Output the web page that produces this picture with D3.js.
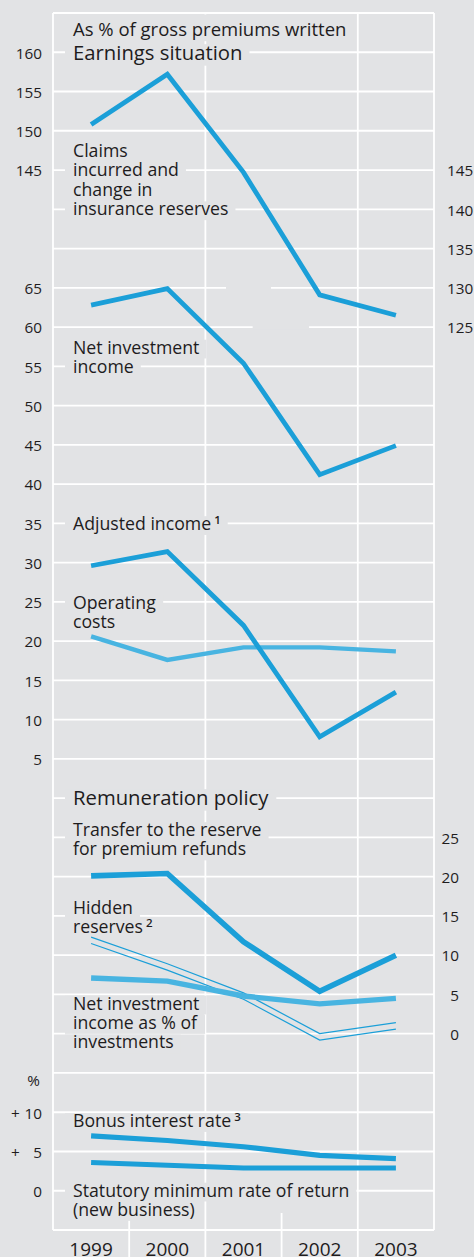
<!DOCTYPE html>
<html>
<head>
<meta charset="utf-8">
<script src="https://cdn.jsdelivr.net/npm/d3@7"></script>
<style>
  html, body { margin: 0; padding: 0; background: #e2e3e5; }
  svg { display: block; font-family: "Open Sans", sans-serif; }
</style>
</head>
<body>
<svg id="chart" width="474" height="1257"></svg>
<script>
// values
const years = ["1999", "2000", "2001", "2002", "2003"];

// earnings situation, as % of gross premiums written
const claims         = [150.8, 157.2, 144.7, 129.1, 126.5];
const netInvestment  = [62.8, 64.9, 55.4, 41.2, 44.9];
const adjustedIncome = [29.6, 31.4, 22.0, 7.8, 13.5];
const operatingCosts = [20.6, 17.6, 19.2, 19.2, 18.7];

// remuneration policy
const premiumRefunds  = [20.1, 20.4, 11.7, 5.4, 10.0];
const hiddenReserves  = [11.9, 8.5, 4.8, -0.4, 1.0];
const investmentYield = [7.1, 6.7, 4.8, 3.8, 4.5];
const bonusRate       = [7.0, 6.4, 5.6, 4.5, 4.1];
const minimumRate     = [3.6, 3.25, 2.9, 2.9, 2.9];

// tick labels
const claimsTicksLeft  = [145, 150, 155, 160];
const claimsTicksRight = [125, 130, 135, 140, 145];
const earningsTicks    = [5, 10, 15, 20, 25, 30, 35, 40, 45, 50, 55, 60, 65];
const remunTicks       = [0, 5, 10, 15, 20, 25];
const rateTicks        = [0, 5, 10];

const W = 474, H = 1257;
const L = 53, R = 434, T = 13, B = 1230;
const BG = "#e2e3e5", BLUE = "#1b9fd8", LIGHT = "#48b4e1", INK = "#1e1c1d";

const svg = d3.select("#chart");

// one gridline every 5 units, 31 rows between frame top and bottom
const gy = d3.scaleLinear().domain([0, 31]).range([T, B]);
const x = d3.scaleBand().domain(years).range([L, R]);
const cx = d => x(d) + x.bandwidth() / 2;

const yClaims = d3.scaleLinear().domain([165, 125]).range([gy(0), gy(8)]);
const yEarn   = d3.scaleLinear().domain([65, 5]).range([gy(7), gy(19)]);
const yRemun  = d3.scaleLinear().domain([25, 0]).range([gy(21), gy(26)]);
const yRate   = d3.scaleLinear().domain([10, 0]).range([gy(28), gy(30)]);

svg.append("rect").attr("width", W).attr("height", H).attr("fill", BG);

// grid
const grid = svg.append("g").attr("stroke", "#fff").attr("stroke-width", 1.8);
grid.selectAll("line.h").data(d3.range(32)).enter().append("line")
    .attr("x1", L).attr("x2", R)
    .attr("y1", d => gy(d)).attr("y2", d => gy(d));
grid.selectAll("line.f").data([L, R]).enter().append("line")
    .attr("x1", d => d).attr("x2", d => d).attr("y1", T).attr("y2", B);
years.slice(1).forEach((yr, i) => {
    const full = i % 2 === 1;
    grid.append("line")
        .attr("x1", x(yr)).attr("x2", x(yr))
        .attr("y1", full ? T : B - 17).attr("y2", H);
});

// little breaks in the 65 / 60 gridlines
const gapsG = svg.append("g").attr("fill", BG);
[[7, 1.77, 2.36], [8, 2.12, 2.86]].forEach(([row, a, b]) => {
    const px = v => L + x.bandwidth() * (v + 0.5);
    gapsG.append("rect").attr("x", px(a)).attr("width", px(b) - px(a))
        .attr("y", gy(row) - 2).attr("height", 4);
});

const knock = svg.append("g").attr("fill", BG);
const linesG = svg.append("g").attr("fill", "none").attr("stroke-linejoin", "miter");
const textG = svg.append("g").attr("fill", INK);

function series(values, scale, color, width, dy) {
    const line = d3.line().x((d, i) => cx(years[i])).y(d => scale(d));
    linesG.append("path").datum(values)
        .attr("d", line)
        .attr("transform", dy ? `translate(0,${dy})` : null)
        .attr("stroke", color).attr("stroke-width", width);
}

series(claims, yClaims, BLUE, 4.8);
series(netInvestment, yEarn, BLUE, 4.8);
series(operatingCosts, yEarn, LIGHT, 4.4);
series(adjustedIncome, yEarn, BLUE, 4.8);

series(hiddenReserves, yRemun, BLUE, 1.2, -3.2);
series(hiddenReserves, yRemun, BLUE, 1.2, 3.2);
series(investmentYield, yRemun, LIGHT, 5.4);
series(premiumRefunds, yRemun, BLUE, 5.6);

series(minimumRate, yRate, BLUE, 5);
series(bonusRate, yRate, BLUE, 5.2);

// labels inside the plot, each line knocks out the grid behind it
const notes = [
    { y: 36, size: 18.5, lines: ["As % of gross premiums written"], tall: true },
    { y: 60, size: 20.3, lines: ["Earnings situation"] },
    { y: 157, size: 17.7, lines: ["Claims", "incurred and", "change in", "insurance reserves"] },
    { y: 353.5, size: 17.7, lines: ["Net investment", "income"] },
    { y: 530, size: 17.7, lines: ["Adjusted income|1"] },
    { y: 608.5, size: 17.7, lines: ["Operating", "costs"] },
    { y: 805, size: 20.3, lines: ["Remuneration policy"] },
    { y: 836, size: 17.7, lines: ["Transfer to the reserve", "for premium refunds"] },
    { y: 913.5, size: 17.7, lines: ["Hidden", "reserves|2"] },
    { y: 1009.5, size: 17.7, lines: ["Net investment", "income as % of", "investments"] },
    { y: 1127, size: 17.7, lines: ["Bonus interest rate|3"] },
    { y: 1196.5, size: 17.7, lines: ["Statutory minimum rate of return", "(new business)"] }
];

notes.forEach(n => {
    n.lines.forEach((ln, k) => {
        const base = n.y + k * 19.4;
        const [main, sup] = ln.split("|");
        const t = textG.append("text").attr("x", 73).attr("y", base)
            .style("font-size", n.size + "px").text(main);
        if (sup) {
            t.append("tspan").attr("dx", 3).attr("dy", -6)
                .style("font-size", "11.5px").style("font-weight", 600).text(sup);
        }
        const bb = t.node().getBBox();
        const top = n.tall ? T + 1.5 : base - 0.78 * n.size;
        knock.append("rect")
            .attr("x", bb.x - 8).attr("width", bb.width + 15)
            .attr("y", top).attr("height", base + 0.28 * n.size - top);
    });
});

// axis labels
const tick = textG.append("g").style("font-size", "15.3px");
function ticks(values, scale, xPos, anchor, fmt) {
    tick.selectAll(null).data(values).enter().append("text")
        .attr("x", xPos).attr("y", d => scale(d) + 6.3)
        .attr("text-anchor", anchor)
        .text(fmt || (d => d));
}
ticks(claimsTicksLeft, yClaims, 42, "end");
ticks(claimsTicksRight, yClaims, 447, "start");
ticks(earningsTicks, yEarn, 42, "end");
ticks(remunTicks, yRemun, 459, "end");
ticks(rateTicks, yRate, 42, "end");
tick.selectAll(null).data(rateTicks.filter(d => d > 0)).enter().append("text")
    .attr("x", 11).attr("y", d => yRate(d) + 6.3).text("+");
tick.append("text").attr("x", 40).attr("y", gy(27) + 13)
    .attr("text-anchor", "end").text("%");

textG.append("g").style("font-size", "19px")
    .selectAll("text").data(years).enter().append("text")
    .attr("x", d => cx(d)).attr("y", 1256)
    .attr("text-anchor", "middle").text(d => d);
</script>
</body>
</html>
